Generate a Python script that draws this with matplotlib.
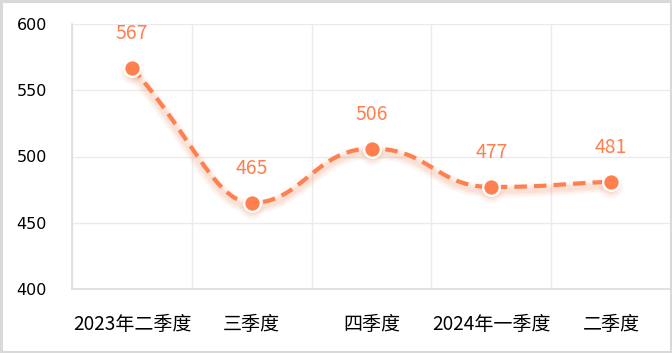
import numpy as np
import matplotlib
matplotlib.use('Agg')
import matplotlib.pyplot as plt
import matplotlib.transforms as mtransforms
from matplotlib.patches import Rectangle

categories = ['2023年二季度', '三季度', '四季度', '2024年一季度', '二季度']
values = [567, 465, 506, 477, 481]
y_ticks = [400, 450, 500, 550, 600]

LINE_COLOR = '#FF7F4F'
CJK = ['Noto Sans CJK SC', 'DejaVu Sans']


def _clamp(c, a, b):
    lo = np.minimum(a, b)
    hi = np.maximum(a, b)
    return np.minimum(np.maximum(c, lo), hi)


def smooth_curve(xs, ys, smooth=0.5, sx=120.0, sy=1.325, n=50):
    # bezier smoothing in pixel space, control points kept inside the
    # box of each segment so extremes stay flat
    P = np.column_stack([np.asarray(xs, float) * sx, np.asarray(ys, float) * sy])
    m = len(P)
    left = [None] * m
    right = [None] * m
    left[0] = right[0] = P[0]
    right[0] = P[0] + (P[1] - P[0]) * smooth
    left[-1] = P[-1] - (P[-1] - P[-2]) * smooth
    right[-1] = P[-1]
    for i in range(1, m - 1):
        p, prv, nxt = P[i], P[i - 1], P[i + 1]
        v = nxt - prv
        l0 = np.hypot(*(p - prv))
        l1 = np.hypot(*(nxt - p))
        r = l1 / (l0 + l1)
        c1 = _clamp(p + v * smooth * r, p, nxt)
        w = c1 - p
        c0 = _clamp(p - w * l1 / l0, p, prv)
        w = p - c0
        c1 = p + w * l0 / l1
        left[i], right[i] = c0, c1
    t = np.linspace(0, 1, n)[:, None]
    pts = []
    for i in range(m - 1):
        p0, p1, p2, p3 = P[i], right[i], left[i + 1], P[i + 1]
        seg = ((1 - t) ** 3 * p0 + 3 * (1 - t) ** 2 * t * p1
               + 3 * (1 - t) * t ** 2 * p2 + t ** 3 * p3)
        pts.append(seg)
    pts = np.vstack(pts)
    return pts[:, 0] / sx, pts[:, 1] / sy


fig = plt.figure(figsize=(6.72, 3.53), dpi=100)
ax = fig.add_axes([72 / 672, 1 - 289 / 353, 599 / 672, 265 / 353])

x = np.arange(len(categories))
cx, cy = smooth_curve(x, values)

# soft shadow under the line
shadow = mtransforms.offset_copy(ax.transData, fig=fig, x=0, y=-4, units='dots')
for w, a in zip([14, 11, 8, 5], [0.04, 0.05, 0.06, 0.08]):
    ax.plot(cx, cy, color='#F07040', linewidth=w * 0.72, alpha=a,
            solid_capstyle='round', transform=shadow, zorder=2)
    ax.plot(x, values, 'o', color='#E06030', markersize=w * 0.9 + 5, alpha=a,
            markeredgewidth=0, transform=shadow, zorder=2)

ax.plot(cx, cy, color=LINE_COLOR, linewidth=3.0, linestyle=(0, (3.0, 1.7)),
        dash_capstyle='butt', zorder=3)
ax.plot(x, values, 'o', color=LINE_COLOR, markersize=12,
        markeredgecolor='white', markeredgewidth=1.7, zorder=4)

for xi, v in zip(x, values):
    ax.annotate(str(v), (xi, v), xytext=(0, 34), textcoords='offset pixels',
                ha='center', va='center', color=LINE_COLOR, fontsize=14,
                family=CJK)

ax.set_xlim(-0.5, len(categories) - 0.5)
ax.set_ylim(400, 600)
ax.set_yticks(y_ticks)
ax.set_xticks(x)
ax.set_xticklabels(categories)
ax.set_xticks(np.arange(len(categories)) - 0.5, minor=True)
ax.tick_params(axis='both', which='both', length=0)
ax.tick_params(axis='y', pad=18, labelsize=11.5)
ax.tick_params(axis='x', pad=18, labelsize=13.7)
for lab in ax.get_yticklabels():
    lab.set_family(['DejaVu Sans'])
    lab.set_color('black')
for lab in ax.get_xticklabels():
    lab.set_family(CJK)
    lab.set_color('black')

ax.grid(True, axis='y', color='#EBEBEB', linewidth=1)
ax.grid(True, axis='x', which='minor', color='#EBEBEB', linewidth=1)
ax.grid(False, axis='x', which='major')
ax.set_axisbelow(True)

for s in ['top', 'right']:
    ax.spines[s].set_visible(False)
for s in ['left', 'bottom']:
    ax.spines[s].set_color('#DDDDDD')
    ax.spines[s].set_linewidth(1.2)

fig.patches.append(Rectangle((0.002, 0.003), 0.996, 0.994, transform=fig.transFigure,
                             fill=False, edgecolor='#D9D9D9', linewidth=2.2))

fig.savefig('out.png', dpi=100)
